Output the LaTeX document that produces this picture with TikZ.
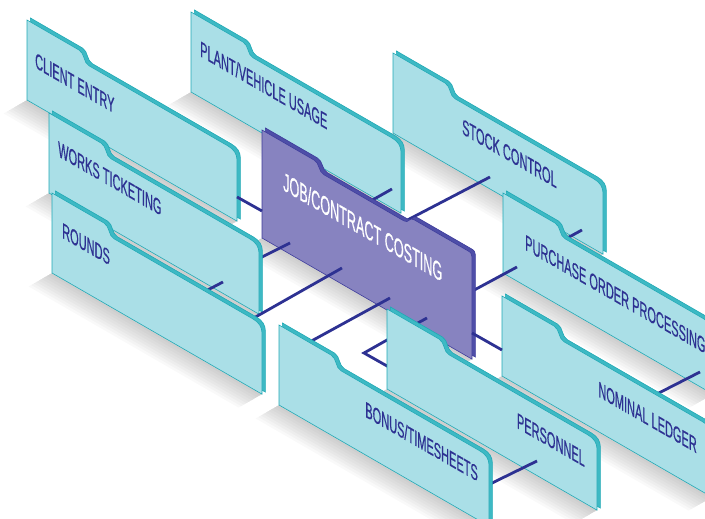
\documentclass[tikz,border=0pt]{standalone}
\usepackage{fontspec}
\newfontfamily\labelfont[FakeStretch=0.5, FakeBold=0.5]{Liberation Sans}
\definecolor{folderface}{RGB}{170,223,231}
\definecolor{folderedge}{RGB}{61,185,196}
\definecolor{folderline}{RGB}{32,169,181}
\definecolor{costface}{RGB}{135,131,192}
\definecolor{costedge}{RGB}{78,78,168}
\definecolor{costline}{RGB}{61,60,155}
\definecolor{linkblue}{RGB}{45,49,146}
\tikzset{
	link/.style={draw=linkblue, line width=2.8pt},
	floorshade/.style={fill=black, opacity=0.025},
	foldertext/.style={text=linkblue, inner sep=0pt, transform shape,
		font=\labelfont\fontsize{22}{24}\selectfont},
	costtext/.style={text=white, inner sep=0pt, transform shape, xscale=0.97,
		font=\labelfont\fontsize{26}{28}\selectfont}
}
% one folder panel: name, bottom left corner, label anchor, label position, label
\newcommand{\folder}[5]{%
	\begin{scope}[shift={#2}, yslant=-0.577]
		\foreach \s in {3,6,...,27}
			\path[floorshade] (0,0) -- (210,0) -- ++(-0.866*\s,-\s) -- (-0.866*\s,-\s) -- cycle;
		\filldraw[fill=folderedge, draw=folderline, line width=0.6pt, shift={(3.4,4)}]
			(0,0) -- (0,80) -- (52,80) .. controls (58,80) and (56,70) .. (62,70)
			-- (201,70) .. controls (207,70) and (210,67) .. (210,61) -- (210,0) -- cycle;
		\filldraw[fill=folderface, draw=folderline, line width=0.6pt]
			(0,0) -- (0,80) -- (52,80) .. controls (58,80) and (56,70) .. (62,70)
			-- (201,70) .. controls (207,70) and (210,67) .. (210,61) -- (210,0) -- cycle;
		\node[foldertext, anchor=#3] (#1) at #4 {#5};
	\end{scope}}

\begin{document}
\begin{tikzpicture}[x=1pt, y=1pt]
	\useasboundingbox (0,0) rectangle (705,519);
	\clip (0,0) rectangle (705,519);

	% connector ends
	\coordinate (ce-r) at (237,322);
	\coordinate (jcc-l) at (262,308);
	\coordinate (pv-c) at (392,330);
	\coordinate (jcc-pv) at (360,312);
	\coordinate (jcc-sc) at (395,292.5);
	\coordinate (sc-c) at (490,342);
	\coordinate (jcc-pop) at (465,224);
	\coordinate (pop-c) at (517,252);
	\coordinate (sc-pop) at (582,289);
	\coordinate (pop-sc) at (560,277);
	\coordinate (pop-nl) at (700,147);
	\coordinate (nl-pop) at (650,121.5);
	\coordinate (jcc-nl) at (472,186);
	\coordinate (nl-l) at (502,169);
	\coordinate (jcc-wt) at (290,276);
	\coordinate (wt-c) at (250,256);
	\coordinate (jcc-pe) at (427,201);
	\coordinate (pe-c) at (405,189);
	\coordinate (pe-a) at (395,183.5);
	\coordinate (pe-k) at (364,166);
	\coordinate (pe-b) at (395,148.5);
	\coordinate (wt-ro) at (223,237);
	\coordinate (ro-wt) at (200,225);
	\coordinate (jcc-ro) at (342,251);
	\coordinate (ro-c) at (245,196);
	\coordinate (jcc-bt) at (390,221);
	\coordinate (bt-c) at (306,175);
	\coordinate (pe-bt) at (537,58);
	\coordinate (bt-pe) at (485,32.5);

	% back row
	\folder{sc}{(393,386)}{base west}{(69,39)}{STOCK CONTROL}
	\draw[link] (sc-pop) -- (pop-sc);
	\folder{pv}{(191,427)}{base west}{(9,41)}{PLANT/VEHICLE USAGE}
	\folder{pop}{(503,246)}{base west}{(22,36)}{PURCHASE ORDER PROCESSING}

	\draw[link] (pv-c) -- (jcc-pv);
	\draw[link] (jcc-sc) -- (sc-c);
	\draw[link] (jcc-pop) -- (pop-c);
	\draw[link] (pop-nl) -- (nl-pop);

	% middle row
	\folder{ce}{(27,419)}{base west}{(8,37)}{CLIENT ENTRY}
	\begin{scope}[shift={(262,281)}, yslant=-0.577]
		\foreach \s in {3,6,...,27}
			\path[floorshade] (0,0) -- (210,0) -- ++(-0.866*\s,-\s) -- (-0.866*\s,-\s) -- cycle;
		\filldraw[fill=costedge, draw=costline, line width=0.6pt, shift={(3.4,4)}]
			(0,0) -- (0,108) -- (52,108) .. controls (58,108) and (56,99) .. (62,99)
			-- (142,99) .. controls (147,99) and (147,106) .. (152,106)
			-- (206,106) .. controls (209,106) and (210,105) .. (210,102) -- (210,0) -- cycle;
		\filldraw[fill=costface, draw=costline, line width=0.6pt]
			(0,0) -- (0,108) -- (52,108) .. controls (58,108) and (56,99) .. (62,99)
			-- (142,99) .. controls (147,99) and (147,106) .. (152,106)
			-- (206,106) .. controls (209,106) and (210,105) .. (210,102) -- (210,0) -- cycle;
		\node[costtext, anchor=base west] (jcc) at (21,60) {JOB/CONTRACT COSTING};
	\end{scope}
	\folder{nl}{(502,143)}{base east}{(195,35)}{NOMINAL LEDGER}
	\draw[link] (ce-r) -- (jcc-l);
	\draw[link] (jcc-nl) -- (nl-l);

	\draw[link] (jcc-wt) -- (wt-c);
	\draw[link] (jcc-pe) -- (pe-c);
	\draw[link] (pe-a) -- (pe-k) -- (pe-b);
	\folder{wt}{(49,326)}{base west}{(9,42)}{WORKS TICKETING}
	\folder{pe}{(387,130)}{base east}{(198,36)}{PERSONNEL}

	% front row
	\draw[link] (wt-ro) -- (ro-wt);
	\draw[link] (jcc-ro) -- (ro-c);
	\draw[link] (jcc-bt) -- (bt-c);
	\draw[link] (pe-bt) -- (bt-pe);
	\folder{ro}{(52,246)}{base west}{(10,41)}{ROUNDS}
	\folder{bt}{(279,114)}{base east}{(199,38)}{BONUS/TIMESHEETS}
\end{tikzpicture}
\end{document}
